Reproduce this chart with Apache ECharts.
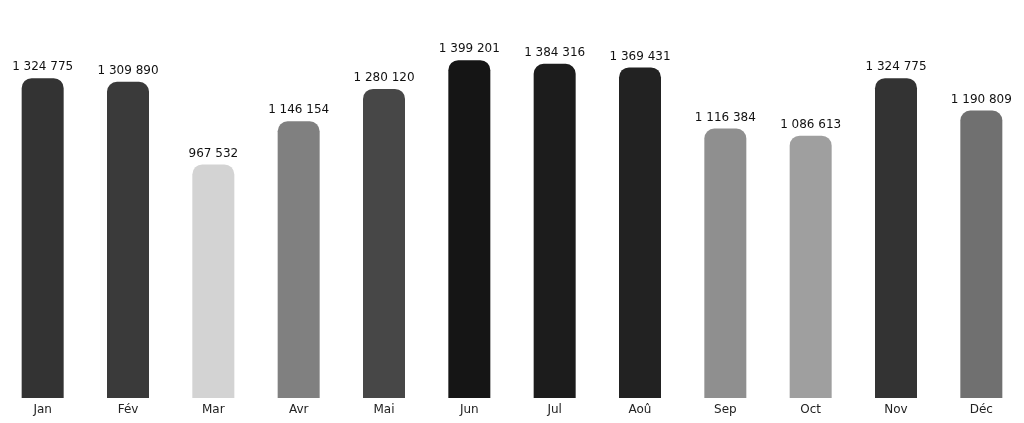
<!DOCTYPE html>
<html><head><meta charset="utf-8">
<script src="https://cdn.jsdelivr.net/npm/echarts@6/dist/echarts.min.js"></script>
<style>html,body{margin:0;background:#fff}#c{width:1024px;height:423px}</style>
</head><body><div id="c"></div>
<script>
const months = ["Jan","Fév","Mar","Avr","Mai","Jun","Jul","Aoû","Sep","Oct","Nov","Déc"];
const values = [1324775,1309890,967532,1146154,1280120,1399201,1384316,1369431,1116384,1086613,1324775,1190809];
const colors = ["#333333","#3a3a3a","#d3d3d3","#808080","#474747","#151515","#1c1c1c","#222222","#8f8f8f","#9f9f9f","#333333","#707070"];

const fmt = v => String(v).replace(/\B(?=(\d{3})+(?!\d))/g, " ");

const chart = echarts.init(document.getElementById("c"));
chart.setOption({
  animation: false,
  grid: { left: 0, right: 0, top: 60, bottom: 25 },
  xAxis: {
    type: "category", data: months,
    axisLine: { show: false }, axisTick: { show: false },
    axisLabel: { color: "#222", fontSize: 12, fontFamily: "DejaVu Sans", margin: 6 }
  },
  yAxis: { type: "value", min: 0, max: 1400000, show: false, splitLine: { show: false } },
  series: [{
    type: "bar", barWidth: 42,
    data: values.map((v, i) => ({ value: v, itemStyle: { color: colors[i] } })),
    itemStyle: { borderRadius: [10, 10, 0, 0] },
    label: { show: true, position: "top", distance: 5, color: "#111", fontSize: 12,
             fontFamily: "DejaVu Sans", formatter: p => fmt(p.value) }
  }]
});
</script></body></html>
